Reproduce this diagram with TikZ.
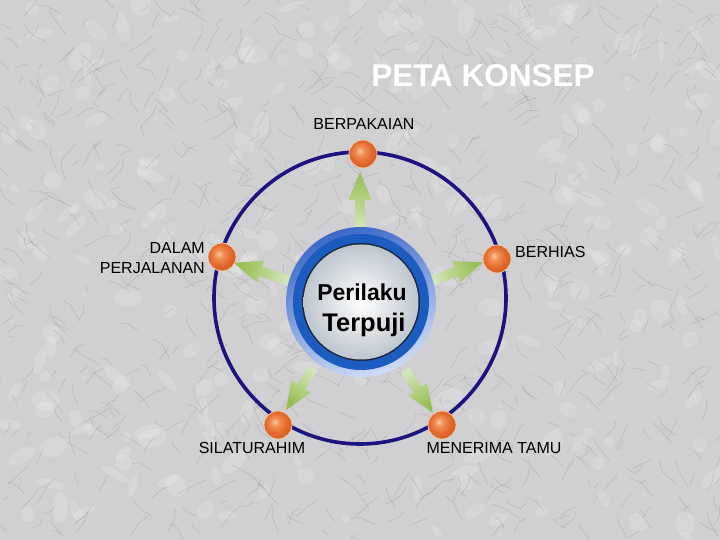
\documentclass[tikz,border=0pt]{standalone}
\usepackage{fontspec}
\setmainfont{Liberation Sans}
\definecolor{bgmarble}{RGB}{208,208,210}
\definecolor{veingray}{RGB}{110,110,116}
\definecolor{navy}{RGB}{28,18,128}
\definecolor{agreen}{RGB}{150,190,80}
\definecolor{agreenlt}{RGB}{210,228,185}
\definecolor{ob1}{RGB}{250,198,158}
\definecolor{ob2}{RGB}{240,142,82}
\definecolor{ob3}{RGB}{228,108,48}
\definecolor{ob4}{RGB}{205,88,32}
\definecolor{ringA}{RGB}{60,105,200}
\definecolor{ringB}{RGB}{205,220,245}
\definecolor{ringC}{RGB}{28,92,192}
\definecolor{ringD}{RGB}{26,40,60}
\definecolor{diskE}{RGB}{190,198,206}
\pgfdeclareradialshading{orangeball}{\pgfpoint{-6bp}{6bp}}{color(0bp)=(ob1); color(8bp)=(ob2); color(18bp)=(ob3); color(30bp)=(ob4); color(50bp)=(ob4)}
\tikzset{
  ball/.style={circle, minimum size=28pt, inner sep=0pt, shading=orangeball, draw={rgb,255:red,245;green,200;blue,165}, line width=0.8pt},
  lbl/.style={font=\fontsize{16}{19}\selectfont, inner sep=0pt, text=black},
  vein/.style={draw=veingray, line width=0.4pt, opacity=0.3},
  blot/.style={fill=white, opacity=0.16},
}
\newcommand\garrow[4]{% tail, rotation, length, shading angle
  \begin{scope}[shift={(#1)}, rotate=#2]
    \shade[top color=agreen, bottom color=agreenlt, shading angle=#4]
      (0,-5) -- (#3-28,-5) -- (#3-28,-11.5) -- (#3,0) -- (#3-28,11.5) -- (#3-28,5) -- (0,5) -- cycle;
  \end{scope}}
\begin{document}
\begin{tikzpicture}[x=1pt,y=1pt]
  \useasboundingbox (0,0) rectangle (720,540);
  % marble background
  \begin{scope}
    \clip (0,0) rectangle (720,540);
    \fill[bgmarble] (0,0) rectangle (720,540);
    \pgfmathsetseed{12}
    \foreach \i in {1,...,260}{
      \pgfmathsetmacro\xa{720*rnd}\pgfmathsetmacro\ya{540*rnd}
      \pgfmathsetmacro\ra{4+12*rnd}\pgfmathsetmacro\rb{3+7*rnd}
      \pgfmathsetmacro\rt{180*rnd}
      \fill[blot, rotate around={\rt:(\xa,\ya)}] (\xa,\ya) ellipse ({\ra} and {\rb});
    }
    \foreach \i in {1,...,800}{
      \pgfmathsetmacro\xa{720*rnd}\pgfmathsetmacro\ya{540*rnd}
      \pgfmathsetmacro\an{45+90*int(2*rnd)+25*rand}
      \pgfmathsetmacro\ln{4+16*rnd}
      \pgfmathsetmacro\bn{\an+40*rand}
      \draw[vein] (\xa,\ya) -- ++(\an:\ln) -- ++(\bn:0.6*\ln);
    }
  \end{scope}
  % title
  \node[font=\bfseries\fontsize{31.5}{36}\selectfont, text=white, anchor=base, inner sep=0pt] (title) at (483,453) {PETA KONSEP};
  % big circle
  \coordinate (o) at (360,242);
  \draw[navy, line width=3.6pt] (o) circle (146);
  % arrows
  \garrow{360,312}{90}{56}{0}
  \garrow{290,259}{162.2}{59}{72.2}
  \garrow{432,259}{20.4}{54}{-69.6}
  \garrow{313,172}{237.3}{50}{147.3}
  \garrow{405,170}{303.1}{51}{213.1}
  % center disc
  \coordinate (cc) at (361,238);
  \shade[top color=ringA, bottom color=ringB, shading angle=20] (cc) circle (75);
  \fill[ringC] (cc) circle (68);
  \fill[ringD] (cc) circle (59);
  \shade[inner color=white, outer color=diskE] (cc) circle (57.5);
  \node[circle, minimum size=150pt, inner sep=0pt] (c) at (cc) {};
  \node[font=\bfseries\fontsize{23}{26}\selectfont, anchor=base, inner sep=0pt] (t1) at (362,239) {Perilaku};
  \node[font=\bfseries\fontsize{25.5}{30}\selectfont, anchor=base, inner sep=0pt] (t2) at (364,208) {Terpuji};
  % balls
  \node[ball] (b1) at (363,386) {};
  \node[ball] (b2) at (222,283) {};
  \node[ball] (b3) at (497,281) {};
  \node[ball] (b4) at (278,115) {};
  \node[ball] (b5) at (442,115) {};
  % labels
  \node[lbl, anchor=base] (l1) at (364,410) {BERPAKAIAN};
  \node[lbl, anchor=base east] (l2a) at (205,286) {DALAM};
  \node[lbl, anchor=base east] (l2b) at (205,266) {PERJALANAN};
  \node[lbl, anchor=base west] (l3) at (515,282) {BERHIAS};
  \node[lbl, anchor=base] (l4) at (252,86) {SILATURAHIM};
  \node[lbl, anchor=base] (l5) at (494,86) {MENERIMA TAMU};
\end{tikzpicture}
\end{document}
